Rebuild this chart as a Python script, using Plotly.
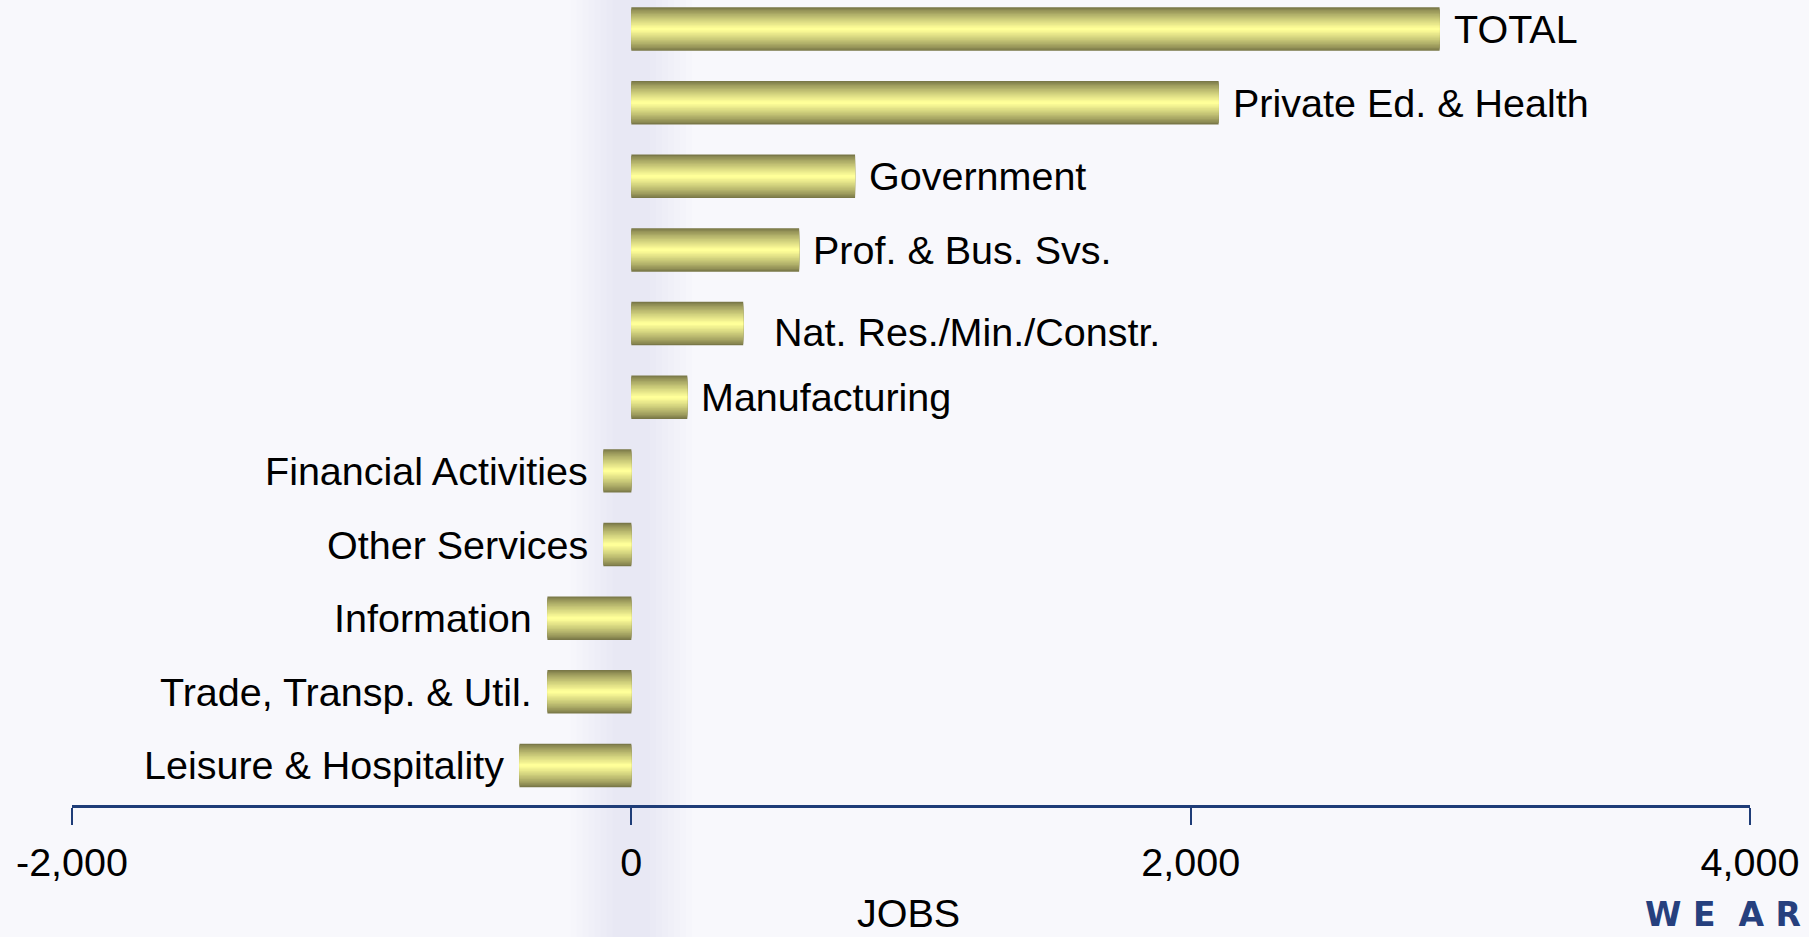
import plotly.graph_objects as go

# Job change by industry sector
sectors = [
    "TOTAL",
    "Private Ed. & Health",
    "Government",
    "Prof. & Bus. Svs.",
    "Nat. Res./Min./Constr.",
    "Manufacturing",
    "Financial Activities",
    "Other Services",
    "Information",
    "Trade, Transp. & Util.",
    "Leisure & Hospitality",
]
jobs = [2890, 2100, 800, 600, 400, 200, -100, -100, -300, -300, -400]

tick_vals = [-2000, 0, 2000, 4000]
tick_text = ["-2,000", "0", "2,000", "4,000"]

FONT = "Liberation Sans, Arial, sans-serif"
EDGE = (122, 120, 72)     # dark olive at bar edges
CENTER = (255, 255, 153)  # pale yellow in the middle
BAR_WIDTH = 0.59
LAYERS = 16
LABEL_SIZE = 39.5

fig = go.Figure()

# Vertical gradient: stacked overlay bars, each thinner and lighter
for i in range(LAYERS):
    t = i / (LAYERS - 1)
    c = tuple(round(EDGE[k] + (CENTER[k] - EDGE[k]) * t ** 0.8) for k in range(3))
    w = BAR_WIDTH * (1 - i / LAYERS)
    fig.add_trace(go.Bar(
        x=jobs,
        y=sectors,
        orientation="h",
        width=w,
        marker=dict(color=f"rgb{c}", line=dict(width=0)),
        hoverinfo="skip" if i else "x+y",
        showlegend=False,
    ))

# Sector labels beside each bar
for name, v in zip(sectors, jobs):
    pos = v >= 0
    xshift = 12 if pos else -13
    yshift = 0
    if name.startswith("Nat. Res."):
        xshift, yshift = 29, -8
    fig.add_annotation(
        x=v, y=name, text=name, showarrow=False,
        xanchor="left" if pos else "right", yanchor="middle",
        xshift=xshift, yshift=yshift,
        font=dict(family=FONT, size=LABEL_SIZE, color="#000000"),
    )

# Axis title
fig.add_annotation(
    xref="paper", yref="paper", x=(908 - 71.5) / (1750 - 71.5), y=-(937 - 805) / 805,
    text="JOBS", showarrow=False, xanchor="center", yanchor="bottom",
    font=dict(family=FONT, size=LABEL_SIZE, color="#000000"),
)

# Corner wordmark
fig.add_annotation(
    xref="paper", yref="paper", x=(1643 - 71.5) / (1750 - 71.5), y=-(914 - 805) / 805,
    text="<b>W E  A R</b>", showarrow=False, xanchor="left", yanchor="middle",
    font=dict(family="DejaVu Sans, sans-serif", size=33, color="#26407e"),
)

# Faint lavender haze behind the zero line
haze = []
for k in range(8):
    pad = 6 * k
    haze.append(dict(
        type="rect", xref="paper", yref="paper", layer="below",
        x0=(612 - pad - 71.5) / 1678.5, x1=(650 + pad - 71.5) / 1678.5,
        y0=-0.17, y1=1.0, line=dict(width=0),
        fillcolor="rgba(205,207,230,0.035)",
    ))

fig.update_layout(
    width=1809,
    height=937,
    margin=dict(l=71.5, r=59, t=0, b=132),
    paper_bgcolor="#f8f8fc",
    plot_bgcolor="rgba(0,0,0,0)",
    barmode="overlay",
    shapes=haze,
    xaxis=dict(
        range=[-2000, 4000],
        tickvals=tick_vals,
        ticktext=tick_text,
        showgrid=False,
        zeroline=False,
        showline=True,
        linecolor="#1f3d78",
        linewidth=3,
        ticks="outside",
        ticklen=17,
        tickwidth=2,
        tickcolor="#1f3d78",
        tickfont=dict(family=FONT, size=LABEL_SIZE, color="#000000"),
        ticklabelstandoff=4,
    ),
    yaxis=dict(
        type="category",
        categoryorder="array",
        categoryarray=list(reversed(sectors)),
        range=[-0.537, 10.394],
        showticklabels=False,
        showgrid=False,
        zeroline=False,
        showline=False,
        ticks="",
    ),
)

fig.write_html("out.html")
